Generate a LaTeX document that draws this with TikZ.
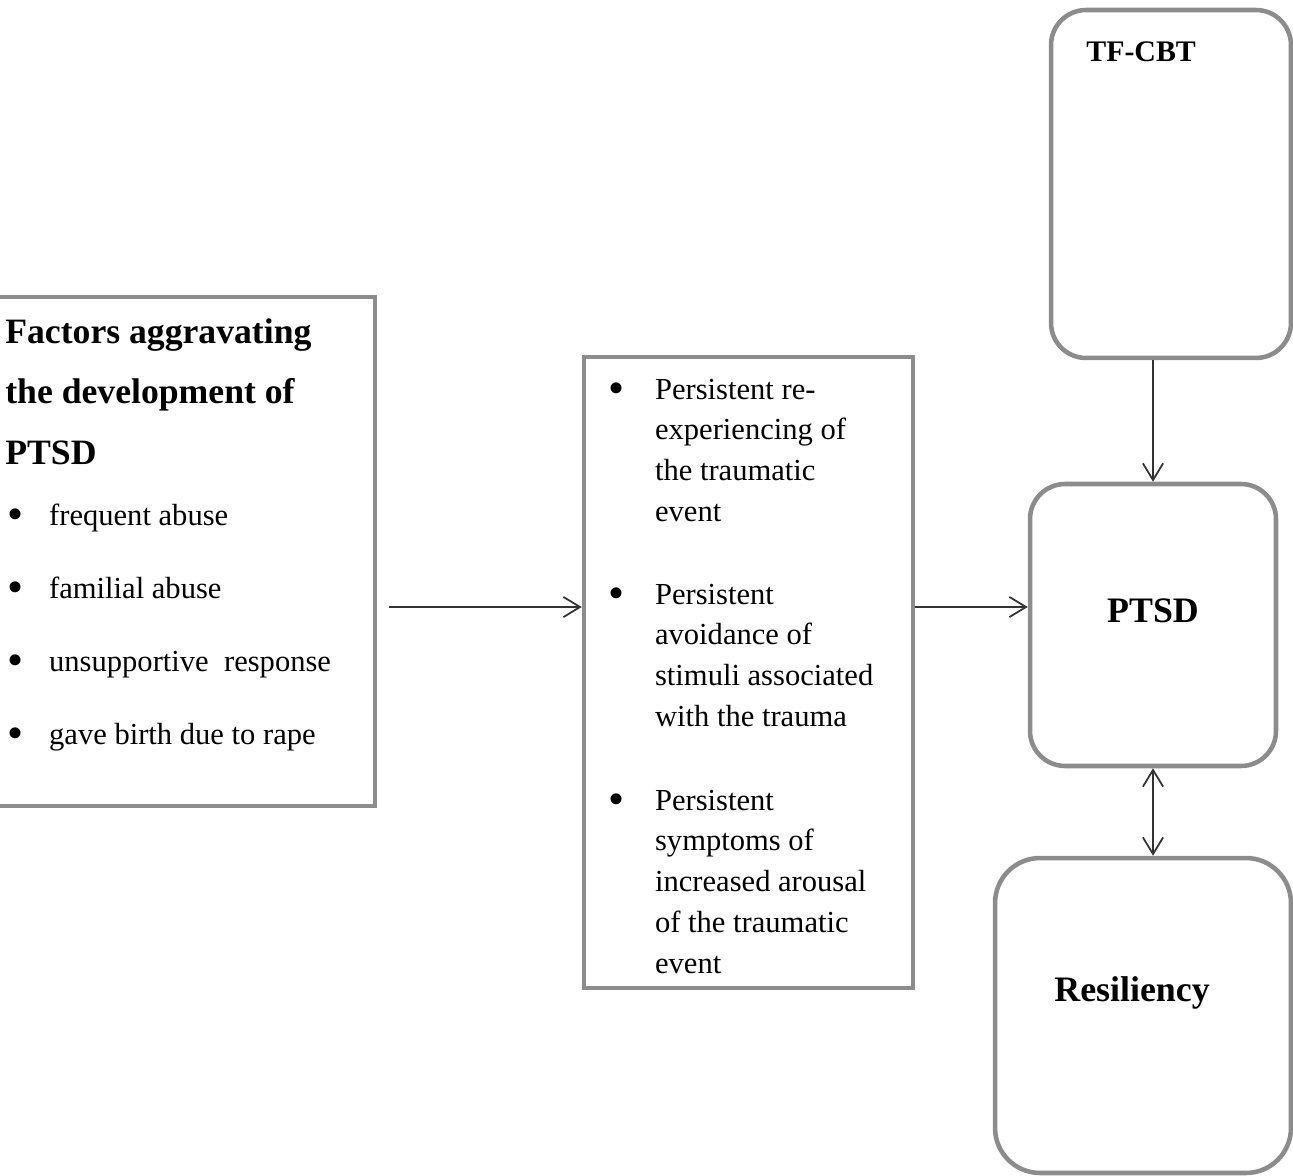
\documentclass[tikz,border=0pt]{standalone}
\usepackage{fontspec}
\setmainfont{Liberation Serif}
\usepackage{tikz}
\usetikzlibrary{arrows.meta}
\definecolor{boxgray}{HTML}{8C8C8C}
\definecolor{linkgray}{HTML}{333333}
\newcommand{\bigdot}{\raisebox{-2.8pt}{\scalebox{1.5}{\textbullet}}}

\begin{document}
\begin{tikzpicture}[x=0.02cm, y=-0.02cm,
	>={Straight Barb[length=9.5pt,width=11.5pt]},
	box/.style={draw=boxgray, line width=2.6pt, inner sep=0pt},
	roundbox/.style={box, rounded corners=0.7cm},
	link/.style={draw=linkgray, line width=1pt},
	txt/.style={inner sep=0pt, anchor=base west},
	itemfont/.style={font=\fontsize{17.4}{23.2}\selectfont},
	]
	% Page frame
	\useasboundingbox (0,0) rectangle (1293,1175);
	\clip (0,0) rectangle (1293,1175);

	% Draw boxes
	%Left
	\node[box, minimum width=7.7cm, minimum height=10.18cm] (factors) at (182.5,551.5) {};
	%Middle
	\node[box, minimum width=6.58cm, minimum height=12.62cm] (symptoms) at (748.5,672.5) {};
	%Right column
	\node[roundbox, minimum width=4.8cm, minimum height=6.96cm] (tfcbt) at (1171,184) {};
	\node[roundbox, minimum width=4.92cm, minimum height=5.64cm] (ptsd) at (1153,625) {};
	\node[roundbox, rounded corners=0.9cm, minimum width=5.92cm, minimum height=6.3cm] (resil) at (1143,1015.5) {};

	% Texts of the left box
	\node[txt, font=\fontsize{20.3}{34.6}\bfseries] (factorstitle) at (5,343)
		{\begin{tabular}[t]{@{}l@{}}Factors aggravating\\the development of\\PTSD\end{tabular}};
	\node[txt, itemfont] (frequent) at (7,525) {\makebox[23.8pt][l]{\bigdot}frequent abuse};
	\node[txt, itemfont] (familial) at (7,598) {\makebox[23.8pt][l]{\bigdot}familial abuse};
	\node[txt, itemfont] (unsupp) at (7,671) {\makebox[23.8pt][l]{\bigdot}unsupportive\ \ response};
	\node[txt, itemfont] (birth) at (7,744) {\makebox[23.8pt][l]{\bigdot}gave birth due to rape};

	% Texts of the middle box
	\node[txt, itemfont] (reexp) at (608,399)
		{\begin{tabular}[t]{@{}p{26.6pt}@{}l@{}}\bigdot & Persistent re-\\ & experiencing of\\ & the traumatic\\ & event\end{tabular}};
	\node[txt, itemfont] (avoid) at (608,604)
		{\begin{tabular}[t]{@{}p{26.6pt}@{}l@{}}\bigdot & Persistent\\ & avoidance of\\ & stimuli associated\\ & with the trauma\end{tabular}};
	\node[txt, itemfont] (arousal) at (608,810)
		{\begin{tabular}[t]{@{}p{26.6pt}@{}l@{}}\bigdot & Persistent\\ & symptoms of\\ & increased arousal\\ & of the traumatic\\ & event\end{tabular}};

	% Labels of the right column
	\node[txt, font=\fontsize{17}{20}\bfseries] (tfcbtlabel) at (1086,62) {TF-CBT};
	\node[txt, anchor=base, font=\fontsize{20.4}{24}\bfseries] (ptsdlabel) at (1153,622) {PTSD};
	\node[txt, anchor=base, font=\fontsize{20.4}{24}\bfseries] (resillabel) at (1132,1001) {Resiliency};

	% Arrows
	\coordinate (row) at (0,607);
	\draw[link, ->, shorten <=0.24cm] (factors.east |- row) -- (symptoms.west |- row);
	\draw[link, ->] (symptoms.east |- row) -- (ptsd.west |- row);
	\draw[link, ->] (ptsd.north |- tfcbt.south) -- (ptsd.north);
	\draw[link, <->] (ptsd.south) -- (ptsd.south |- resil.north);

\end{tikzpicture}
\end{document}
